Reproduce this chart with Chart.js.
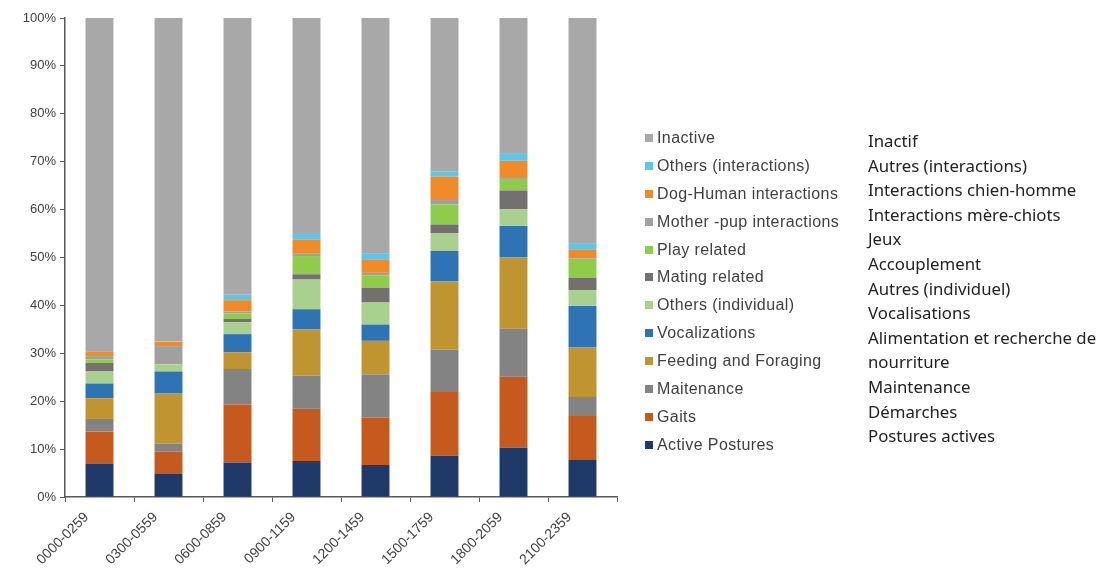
<!DOCTYPE html>
<html>
<head>
<meta charset="utf-8">
<script src="https://cdn.jsdelivr.net/npm/chart.js@4.4.1/dist/chart.umd.min.js"></script>
<style>
    html, body { margin: 0; padding: 0; background: #ffffff; }
    #wrap { position: relative; width: 1105px; height: 570px; }
    #behaviourCanvas { position: absolute; left: 0; top: 0; }
    #legendEn { position: absolute; left: 645px; top: 127px; font-family: "Liberation Sans", Arial, sans-serif; font-size: 16px; letter-spacing: 0.4px; color: #404040; }
    #legendEn div { height: 27.9px; line-height: 22px; white-space: nowrap; }
    #legendEn span.box { display: inline-block; width: 8px; height: 8px; margin-right: 4px; vertical-align: 1px; }
    #legendFr { position: absolute; left: 868px; top: 129px; font-family: "Noto Sans", sans-serif; font-size: 16.8px; color: #222222; }
    #legendFr div { height: 24.6px; line-height: 24px; white-space: nowrap; }
</style>
</head>
<body>
<div id="wrap">
    <canvas id="behaviourCanvas" width="1105" height="570"></canvas>
    <div id="legendEn"></div>
    <div id="legendFr"></div>
</div>
<script>
    // Périodes horaires
    const periods = ['0000-0259', '0300-0559', '0600-0859', '0900-1159', '1200-1459', '1500-1759', '1800-2059', '2100-2359'];

    // Valeurs en %
    const activePostures = [7.0, 4.8, 7.2, 7.5, 6.7, 8.6, 10.3, 7.7];
    const gaits = [6.7, 4.7, 12.1, 10.9, 9.9, 13.3, 14.8, 9.2];
    const maintenance = [2.6, 1.7, 7.4, 6.9, 9.0, 8.9, 10.0, 4.0];
    const feeding = [4.3, 10.4, 3.5, 9.7, 7.0, 14.2, 14.9, 10.3];
    const vocalizations = [3.1, 4.6, 3.8, 4.2, 3.4, 6.4, 6.6, 8.7];
    const othersIndividual = [2.5, 1.5, 2.5, 6.2, 4.6, 3.7, 3.5, 3.3];
    const matingRelated = [1.8, 0.0, 0.7, 1.1, 3.1, 1.8, 3.9, 2.6];
    const playRelated = [0.7, 0.0, 1.1, 3.8, 2.6, 4.2, 2.4, 3.7];
    const motherPup = [0.7, 3.8, 0.4, 0.6, 0.5, 0.9, 0.4, 0.3];
    const dogHuman = [0.9, 0.9, 2.4, 2.8, 2.7, 4.9, 3.4, 1.9];
    const othersInteractions = [0.2, 0.1, 1.1, 1.2, 1.4, 1.0, 1.6, 1.3];
    const inactive = [69.5, 67.5, 57.8, 45.1, 49.1, 32.1, 28.2, 47.0];

    const yTicks = [0, 10, 20, 30, 40, 50, 60, 70, 80, 90, 100];

    const frenchLabels = ['Inactif', 'Autres (interactions)', 'Interactions chien-homme', 'Interactions mère-chiots', 'Jeux',
        'Accouplement', 'Autres (individuel)', 'Vocalisations', 'Alimentation et recherche de', 'nourriture',
        'Maintenance', 'Démarches', 'Postures actives'];

    const series = [
        { label: 'Active Postures', data: activePostures, color: '#1f3a68' },
        { label: 'Gaits', data: gaits, color: '#c65a1e' },
        { label: 'Maitenance', data: maintenance, color: '#838383' },
        { label: 'Feeding and Foraging', data: feeding, color: '#c09430' },
        { label: 'Vocalizations', data: vocalizations, color: '#2e74b5' },
        { label: 'Others (individual)', data: othersIndividual, color: '#a9d08e' },
        { label: 'Mating related', data: matingRelated, color: '#747070' },
        { label: 'Play related', data: playRelated, color: '#8fcc4a' },
        { label: 'Mother -pup interactions', data: motherPup, color: '#a0a0a0' },
        { label: 'Dog-Human interactions', data: dogHuman, color: '#ef8c2a' },
        { label: 'Others (interactions)', data: othersInteractions, color: '#5bc6ea' },
        { label: 'Inactive', data: inactive, color: '#a8a8a8' }
    ];

    const axisColor = '#595959';
    const tickFont = { family: '"Liberation Sans", Arial, sans-serif', size: 14 };

    const ctx = document.getElementById('behaviourCanvas').getContext('2d');
    const chart = new Chart(ctx, {
        type: 'bar',
        data: {
            labels: periods,
            datasets: series.map(s => ({
                label: s.label,
                data: s.data,
                backgroundColor: s.color,
                borderWidth: 0,
                categoryPercentage: 1.0,
                barPercentage: 0.405
            }))
        },
        options: {
            responsive: false,
            animation: false,
            layout: { padding: { left: 0, right: 488, top: 18, bottom: 0 } },
            plugins: {
                legend: { display: false },
                tooltip: { enabled: false }
            },
            scales: {
                x: {
                    stacked: true,
                    grid: { display: true, drawOnChartArea: false, drawTicks: true, tickLength: 5, color: axisColor, offset: true },
                    border: { color: axisColor, width: 1.5 },
                    ticks: { color: '#404040', font: tickFont, maxRotation: 45, minRotation: 45, padding: 7, labelOffset: -13 },
                    afterFit: function (scale) { scale.height = 73; }
                },
                y: {
                    stacked: true,
                    min: 0,
                    max: 100,
                    afterBuildTicks: function (scale) { scale.ticks = yTicks.map(v => ({ value: v })); },
                    grid: { display: true, drawOnChartArea: false, drawTicks: true, tickLength: 5, color: axisColor },
                    border: { color: axisColor, width: 1.5 },
                    ticks: { color: '#404040', font: { family: '"Liberation Sans", Arial, sans-serif', size: 13 }, padding: 4, callback: function (value) { return value + '%'; } },
                    afterFit: function (scale) { scale.width = 65; }
                }
            }
        }
    });

    // Légende anglaise (ordre inversé, comme dans la figure)
    const legendEn = document.getElementById('legendEn');
    chart.data.datasets.slice().reverse().forEach(function (ds) {
        const row = document.createElement('div');
        const box = document.createElement('span');
        box.className = 'box';
        box.style.background = ds.backgroundColor;
        row.appendChild(box);
        row.appendChild(document.createTextNode(ds.label));
        legendEn.appendChild(row);
    });

    // Traduction française
    const legendFr = document.getElementById('legendFr');
    frenchLabels.forEach(function (t) {
        const row = document.createElement('div');
        row.textContent = t;
        legendFr.appendChild(row);
    });
</script>
</body>
</html>
